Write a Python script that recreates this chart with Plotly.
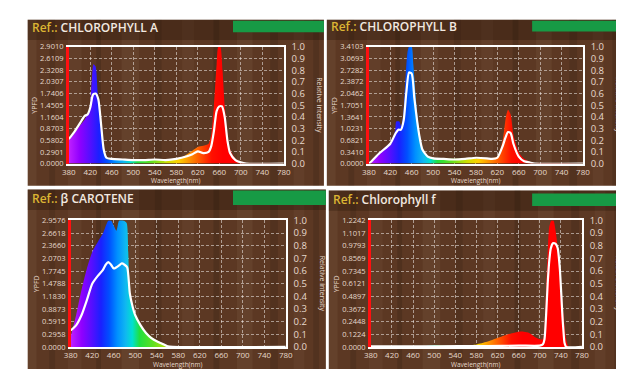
import plotly.graph_objects as go

W, H = 624, 369

# ---------------- data ----------------
titles = ["CHLOROPHYLL A", "CHLOROPHYLL B", "β CAROTENE", "Chlorophyll f"]
x_ticks = [380, 420, 460, 500, 540, 580, 620, 660, 700, 740, 780]
right_ticks = [0.0, 0.1, 0.2, 0.3, 0.4, 0.5, 0.6, 0.7, 0.8, 0.9, 1.0]

ypfd_labels_a = ["0.0000", "0.2901", "0.5802", "0.8703", "1.1604", "1.4505", "1.7406", "2.0307", "2.3208", "2.6109", "2.9010"]
ypfd_labels_b = ["0.0000", "0.3410", "0.6821", "1.0231", "1.3641", "1.7051", "2.0462", "2.3872", "2.7282", "3.0693", "3.4103"]
ypfd_labels_c = ["0.0000", "0.2958", "0.5915", "0.8873", "1.1830", "1.4788", "1.7745", "2.0703", "2.3660", "2.6618", "2.9576"]
ypfd_labels_f = ["0.0000", "0.1224", "0.2448", "0.3672", "0.4897", "0.6121", "0.7345", "0.8569", "0.9793", "1.1017", "1.2242"]

# YPFD spectra (filled)
fill_wl_a = [380, 390, 400, 410, 418, 422, 426, 430, 434, 438, 442, 446, 450, 460, 480, 500, 520, 540, 560, 580, 590, 600, 610, 620, 630, 640, 645, 650, 655, 658, 662, 666, 670, 675, 680, 690, 700, 710, 780]
fill_a = [0.58, 0.75, 0.93, 1.10, 1.31, 1.89, 2.47, 2.41, 1.74, 1.31, 0.73, 0.23, 0.12, 0.09, 0.09, 0.09, 0.09, 0.10, 0.09, 0.12, 0.15, 0.23, 0.32, 0.41, 0.44, 0.49, 0.73, 1.45, 2.47, 2.90, 2.90, 2.32, 1.45, 0.73, 0.35, 0.12, 0.03, 0.0, 0.0]

fill_wl_b = [380, 385, 400, 420, 429, 431, 437, 440, 444, 448, 452, 455, 460, 463, 467, 472, 478, 485, 495, 520, 560, 600, 620, 630, 636, 640, 645, 650, 660, 670, 690, 780]
fill_b = [0.0, 0.07, 0.34, 0.61, 0.95, 1.23, 1.23, 1.09, 1.36, 2.39, 3.24, 3.41, 3.41, 2.90, 2.05, 1.19, 0.61, 0.27, 0.17, 0.14, 0.15, 0.15, 0.20, 0.68, 1.36, 1.57, 1.43, 0.85, 0.34, 0.14, 0.0, 0.0]

fill_wl_c = [380, 390, 400, 410, 420, 430, 440, 450, 455, 460, 465, 470, 478, 484, 487, 490, 495, 500, 510, 520, 530, 540, 550, 560, 570, 780]
fill_c = [0.24, 0.74, 1.33, 1.83, 2.22, 2.45, 2.66, 2.96, 2.96, 2.84, 2.72, 2.96, 2.96, 2.90, 2.22, 1.24, 0.89, 0.74, 0.50, 0.35, 0.24, 0.15, 0.09, 0.03, 0.0, 0.0]

fill_wl_f = [380, 480, 500, 520, 560, 580, 600, 620, 640, 660, 670, 680, 690, 700, 706, 709, 712, 715, 718, 722, 726, 730, 735, 740, 745, 750, 755, 780]
fill_f = [0.0, 0.006, 0.015, 0.01, 0.012, 0.024, 0.049, 0.086, 0.122, 0.147, 0.147, 0.135, 0.098, 0.073, 0.073, 0.184, 0.551, 0.918, 1.163, 1.224, 1.224, 1.126, 0.918, 0.612, 0.306, 0.073, 0.0, 0.0]

# relative intensity (white line)
line_wl_a = [380, 390, 400, 410, 415, 420, 425, 430, 435, 440, 445, 450, 460, 480, 500, 520, 540, 560, 580, 600, 610, 620, 630, 640, 645, 650, 655, 660, 665, 670, 675, 680, 690, 700, 710, 780]
line_a = [0.21, 0.27, 0.34, 0.41, 0.42, 0.48, 0.59, 0.60, 0.55, 0.34, 0.12, 0.05, 0.04, 0.035, 0.03, 0.03, 0.035, 0.03, 0.04, 0.063, 0.08, 0.105, 0.09, 0.10, 0.15, 0.28, 0.45, 0.49, 0.49, 0.40, 0.20, 0.09, 0.03, 0.01, 0.0, 0.0]

line_wl_b = [380, 385, 400, 420, 430, 435, 440, 445, 450, 455, 460, 465, 470, 475, 480, 490, 500, 520, 540, 560, 580, 600, 610, 620, 630, 635, 640, 645, 650, 660, 670, 680, 690, 780]
line_b = [0.0, 0.02, 0.09, 0.17, 0.26, 0.29, 0.29, 0.37, 0.61, 0.78, 0.77, 0.56, 0.37, 0.22, 0.12, 0.06, 0.045, 0.04, 0.035, 0.04, 0.05, 0.045, 0.04, 0.05, 0.15, 0.22, 0.27, 0.26, 0.17, 0.06, 0.02, 0.01, 0.0, 0.0]

line_wl_c = [380, 390, 400, 410, 420, 430, 440, 445, 450, 455, 460, 465, 470, 475, 480, 485, 490, 495, 500, 510, 520, 530, 540, 550, 560, 570, 780]
line_c = [0.13, 0.17, 0.25, 0.37, 0.50, 0.56, 0.61, 0.65, 0.67, 0.65, 0.62, 0.63, 0.645, 0.66, 0.65, 0.63, 0.42, 0.32, 0.25, 0.17, 0.11, 0.07, 0.045, 0.025, 0.005, 0.0, 0.0]

line_wl_f = [380, 500, 600, 660, 700, 706, 709, 712, 715, 718, 721, 725, 728, 731, 734, 738, 741, 743, 745, 747, 750, 780]
line_f = [0.005, 0.005, 0.006, 0.01, 0.01, 0.02, 0.06, 0.25, 0.50, 0.68, 0.78, 0.82, 0.82, 0.81, 0.78, 0.62, 0.40, 0.24, 0.12, 0.03, 0.0, 0.0]

# ---------------- styling / layout ----------------
spectrum_scale = [
    [0.0, "#c020ff"], [0.05, "#9000ff"], [0.10, "#5010ff"], [0.1375, "#1a20ff"],
    [0.175, "#0050ff"], [0.2125, "#0090ff"], [0.25, "#10b8f0"], [0.28, "#00e0d0"],
    [0.3125, "#20e040"], [0.375, "#60e020"], [0.45, "#d0e000"], [0.5, "#ffd000"],
    [0.55, "#ff9000"], [0.6, "#ff5000"], [0.65, "#ff1000"], [0.7, "#ff0000"], [1.0, "#ff0000"],
]

series = [
    (fill_wl_a, fill_a, line_wl_a, line_a, ypfd_labels_a),
    (fill_wl_b, fill_b, line_wl_b, line_b, ypfd_labels_b),
    (fill_wl_c, fill_c, line_wl_c, line_c, ypfd_labels_c),
    (fill_wl_f, fill_f, line_wl_f, line_f, ypfd_labels_f),
]

panels = [
    dict(box=(13, 5, 316, 177), plot=(55, 33, 275, 154), green=(223, 6, 316, 18), title=(15, 13), xt=172),
    dict(box=(319, 5, 618, 177), plot=(362, 33, 581, 154), green=(529, 6, 615, 17), title=(321, 12), xt=172),
    dict(box=(13, 181, 318, 369), plot=(57, 213, 277, 344), green=(223, 182, 318, 197), title=(15, 190), xt=362),
    dict(box=(321, 182, 620, 369), plot=(364, 213, 580, 344), green=(529, 185, 617, 198), title=(323, 191), xt=362),
]


def px(x):
    return x / W


def py(y):
    return 1 - y / H


WOOD = "#5c3823"
TXT = "#e6d9cc"
FONT = "Open Sans"

fig = go.Figure()
shapes = []
annotations = []
layout_axes = {}

grain = [(0, 9, "rgba(255,230,200,0.05)"), (22, 6, "rgba(0,0,0,0.10)"), (41, 14, "rgba(255,230,200,0.04)"),
         (70, 5, "rgba(0,0,0,0.12)"), (96, 18, "rgba(255,230,200,0.05)"), (130, 7, "rgba(0,0,0,0.10)"),
         (158, 12, "rgba(255,230,200,0.04)"), (190, 6, "rgba(0,0,0,0.12)"), (214, 16, "rgba(255,230,200,0.05)"),
         (248, 8, "rgba(0,0,0,0.10)"), (272, 11, "rgba(255,230,200,0.04)"), (292, 6, "rgba(0,0,0,0.10)")]

for i, (p, s) in enumerate(zip(panels, series)):
    n = i + 1
    fwl, fv, lwl, lv, ylabels = s
    ymax = float(ylabels[-1])
    xa = "x" if n == 1 else f"x{n}"
    yl_id = 2 * n - 1
    yr_id = 2 * n
    yl = "y" if yl_id == 1 else f"y{yl_id}"
    yr = f"y{yr_id}"

    bx0, by0, bx1, by1 = p["box"]
    shapes.append(dict(type="rect", xref="paper", yref="paper", x0=px(bx0), x1=px(bx1), y0=py(by1), y1=py(by0),
                       fillcolor=WOOD, line=dict(width=0), layer="below"))
    for off, w, col in grain:
        if bx0 + off + w <= bx1:
            shapes.append(dict(type="rect", xref="paper", yref="paper", x0=px(bx0 + off), x1=px(bx0 + off + w),
                               y0=py(by1), y1=py(by0), fillcolor=col, line=dict(width=0), layer="below"))
    # darker title band
    shapes.append(dict(type="rect", xref="paper", yref="paper", x0=px(bx0), x1=px(bx1), y0=py(by0 + 21), y1=py(by0),
                       fillcolor="rgba(30,15,5,0.28)", line=dict(width=0), layer="below"))
    gx0, gy0, gx1, gy1 = p["green"]
    shapes.append(dict(type="rect", xref="paper", yref="paper", x0=px(gx0), x1=px(gx1), y0=py(gy1), y1=py(gy0),
                       fillcolor="#179a45", line=dict(width=0), layer="below"))

    ax0, ay0, ax1, ay1 = p["plot"]
    dom_x = [px(ax0), px(ax1)]
    dom_y = [py(ay1), py(ay0)]

    fig.add_trace(go.Scatter(
        x=fwl, y=fv, xaxis=xa, yaxis=yl, mode="lines", fill="tozeroy",
        line=dict(width=0, shape="spline", smoothing=0.6, color="rgba(0,0,0,0)"),
        fillgradient=dict(type="horizontal", start=380, stop=780, colorscale=spectrum_scale),
        showlegend=False, hoverinfo="skip"))
    fig.add_trace(go.Scatter(
        x=lwl, y=lv, xaxis=xa, yaxis=yr, mode="lines",
        line=dict(width=2.2, color="white", shape="spline", smoothing=0.6),
        showlegend=False, hoverinfo="skip"))

    xkey = "xaxis" if n == 1 else f"xaxis{n}"
    ylkey = "yaxis" if yl_id == 1 else f"yaxis{yl_id}"
    yrkey = f"yaxis{yr_id}"
    layout_axes[xkey] = dict(
        domain=dom_x, anchor=yl, range=[380, 780], tickvals=x_ticks, ticks="",
        showgrid=True, gridcolor="rgba(255,255,255,0.5)", griddash="3px,2px", gridwidth=1,
        zeroline=False, showline=True, mirror=True, linecolor="white", linewidth=1.6,
        tickfont=dict(size=8, color=TXT, family=FONT), ticklabelstandoff=0)
    layout_axes[ylkey] = dict(
        domain=dom_y, anchor=xa, range=[0, ymax], tickvals=[ymax * k / 10 for k in range(11)],
        ticktext=ylabels, ticks="", showgrid=True, gridcolor="rgba(255,255,255,0.5)",
        griddash="3px,2px", gridwidth=1, zeroline=False, showline=True, linecolor="#ff1010", linewidth=2.5,
        tickfont=dict(size=7.5, color=TXT, family=FONT), ticklabelstandoff=1)
    layout_axes[yrkey] = dict(
        domain=dom_y, anchor=xa, overlaying=yl, side="right", range=[0, 1.0], tickvals=right_ticks,
        ticktext=[f"{v:.1f}" for v in right_ticks], ticks="", showgrid=False, zeroline=False,
        showline=True, linecolor="white", linewidth=1.6,
        tickfont=dict(size=9.5, color=TXT, family=FONT), ticklabelstandoff=4)

    tx, ty = p["title"]
    annotations.append(dict(xref="paper", yref="paper", x=px(tx), y=py(ty), xanchor="left", yanchor="middle",
                            showarrow=False,
                            text=f'<span style="color:#dcb533">Ref.:</span> {titles[i]}',
                            font=dict(size=12, color="#f2e9e0", family=FONT, weight=600)))
    annotations.append(dict(xref="paper", yref="paper", x=px((ax0 + ax1) / 2), y=py(p["xt"]),
                            xanchor="center", yanchor="middle", showarrow=False, text="Wavelength(nm)",
                            font=dict(size=6.5, color=TXT, family=FONT)))
    annotations.append(dict(xref="paper", yref="paper", x=px(ax0 - 35), y=py((ay0 + ay1) / 2),
                            xanchor="center", yanchor="middle", showarrow=False, text="YPFD", textangle=-90,
                            font=dict(size=7, color=TXT, family=FONT)))
    annotations.append(dict(xref="paper", yref="paper", x=px(ax1 + 37), y=py((ay0 + ay1) / 2),
                            xanchor="center", yanchor="middle", showarrow=False, text="Relative intensity",
                            textangle=90, font=dict(size=7, color=TXT, family=FONT)))

fig.update_layout(
    width=W, height=H, margin=dict(l=0, r=0, t=0, b=0),
    paper_bgcolor="white", plot_bgcolor="rgba(0,0,0,0)",
    shapes=shapes, annotations=annotations, showlegend=False,
    **layout_axes)

fig.write_html("out.html")
